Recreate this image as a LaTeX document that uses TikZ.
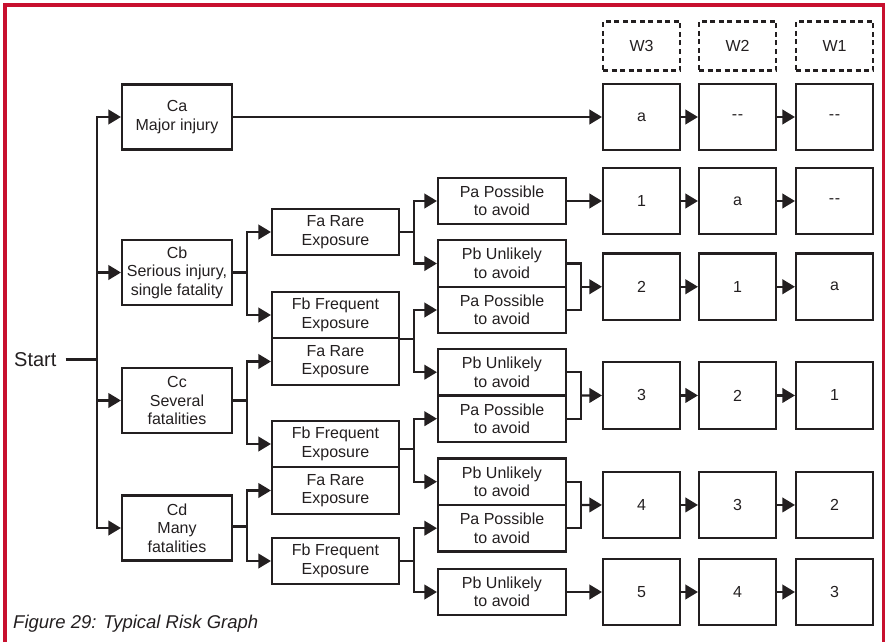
\documentclass[tikz,border=0pt]{standalone}
\usepackage{fontspec}
\setmainfont{Liberation Sans}
\usetikzlibrary{arrows.meta,calc}
\definecolor{riskred}{RGB}{200,16,46}
\definecolor{inkgrey}{RGB}{35,31,32}
\newcommand{\nodash}{-\kern0.6pt-}
\tikzset{
	riskbox/.style={draw=inkgrey, line width=2.1pt, inner sep=0pt, align=center, text=inkgrey, font=\fontsize{16}{18.5}\selectfont},
	cbox/.style={riskbox, minimum width=110pt, minimum height=65pt},
	fbox/.style={riskbox, minimum width=127pt, minimum height=46.5pt},
	pbox/.style={riskbox, minimum width=128pt, minimum height=46.5pt},
	wbox/.style={riskbox, minimum width=77pt, minimum height=66.5pt},
	whead/.style={riskbox, dash pattern=on 5pt off 3.5pt, minimum width=77pt, minimum height=49pt},
	wire/.style={draw=inkgrey, line width=2.1pt},
	arr/.style={wire, -{Triangle[length=12.5pt,width=14.5pt]}}
}

\begin{document}
\begin{tikzpicture}[x=1pt,y=-1pt]
		%%%%% START %%%%%
		\useasboundingbox (0,0) rectangle (885,642);
		\draw[line width=3.4pt, color=riskred] (5,642) -- (5,5) -- (883.5,5) -- (883.5,642);
		
		\node[anchor=west, inner sep=0pt, text=inkgrey, font=\fontsize{20}{24}\selectfont] (start) at (14,359.5) {Start};
		\coordinate (trunk) at (96.7,359.5);
		
		% consequence
		\node[cbox] (Ca) at (177,117) {Ca\\Major injury};
		\node[cbox] (Cb) at (177,272.5) {Cb\\Serious injury,\\single fatality};
		\node[cbox] (Cc) at (177,400.5) {Cc\\Several\\fatalities};
		\node[cbox] (Cd) at (177,528) {Cd\\Many\\fatalities};
		
		% exposure
		\node[fbox] (Fa1) at (335.5,232) {Fa Rare\\Exposure};
		\node[fbox] (Fb1) at (335.5,315) {Fb Frequent\\Exposure};
		\node[fbox] (Fa2) at (335.5,361.5) {Fa Rare\\Exposure};
		\node[fbox] (Fb2) at (335.5,444) {Fb Frequent\\Exposure};
		\node[fbox] (Fa3) at (335.5,490.5) {Fa Rare\\Exposure};
		\node[fbox] (Fb3) at (335.5,561) {Fb Frequent\\Exposure};
		
		% avoidance
		\node[pbox] (Pa1) at (502,201) {Pa Possible\\to avoid};
		\node[pbox] (Pb1) at (502,263.5) {Pb Unlikely\\to avoid};
		\node[pbox] (Pa2) at (502,310) {Pa Possible\\to avoid};
		\node[pbox] (Pb2) at (502,372.2) {Pb Unlikely\\to avoid};
		\node[pbox] (Pa3) at (502,418.7) {Pa Possible\\to avoid};
		\node[pbox] (Pb3) at (502,481.7) {Pb Unlikely\\to avoid};
		\node[pbox] (Pa4) at (502,528.2) {Pa Possible\\to avoid};
		\node[pbox] (Pb4) at (502,592) {Pb Unlikely\\to avoid};
		
		% demand columns
		\node[whead] (hw3) at (641.5,46) {W3};
		\node[whead] (hw2) at (737.5,46) {W2};
		\node[whead] (hw1) at (834.5,46) {W1};
		\foreach \y/\wa/\wb/\wc [count=\row] in {117/a/\nodash/\nodash, 201/1/a/\nodash, 286.75/2/1/a, 395.45/3/2/1, 504.95/4/3/2, 592/5/4/3} {
			\node[wbox] (r\row w3) at (641.5,\y) {\wa};
			\node[wbox] (r\row w2) at (737.5,\y) {\wb};
			\node[wbox] (r\row w1) at (834.5,\y) {\wc};
			\draw[arr] (r\row w3) -- (r\row w2);
			\draw[arr] (r\row w2) -- (r\row w1);
		}
		
		% start -> C
		\draw[wire] ([xshift=9pt]start.east) -- (trunk);
		\draw[arr] (trunk) |- (Ca.west);
		\draw[arr] (trunk) |- (Cd.west);
		\draw[arr] (trunk |- Cb) -- (Cb.west);
		\draw[arr] (trunk |- Cc) -- (Cc.west);
		
		% C -> F
		\draw[arr] (Ca) -- (r1w3);
		\draw[arr] (Cb.east) -- ++(14,0) |- (Fa1.west);
		\draw[arr] (Cb.east) -- ++(14,0) |- (Fb1.west);
		\draw[arr] (Cc.east) -- ++(14,0) |- (Fa2.west);
		\draw[arr] (Cc.east) -- ++(14,0) |- (Fb2.west);
		\draw[arr] ([yshift=1.5pt]Cd.east) -- ++(14,0) |- (Fa3.west);
		\draw[arr] ([yshift=1.5pt]Cd.east) -- ++(14,0) |- (Fb3.west);
		
		% F -> P
		\draw[arr] (Fa1.east) -- ++(14,0) |- (Pa1.west);
		\draw[arr] (Fa1.east) -- ++(14,0) |- (Pb1.west);
		\draw[arr] (Fb1.south east) -- ++(14,0) |- (Pa2.west);
		\draw[arr] (Fb1.south east) -- ++(14,0) |- (Pb2.west);
		\draw[arr] ([yshift=-5pt]Fb2.east) -- ++(14,0) |- (Pa3.west);
		\draw[arr] ([yshift=-5pt]Fb2.east) -- ++(14,0) |- (Pb3.west);
		\draw[arr] (Fb3.east) -- ++(14,0) |- (Pa4.west);
		\draw[arr] (Fb3.east) -- ++(14,0) |- (Pb4.west);
		
		% P -> W
		\draw[arr] (Pa1) -- (r2w3);
		\draw[wire] (Pb1.east) -- ++(13.5,0) |- (Pa2.east);
		\coordinate (m1) at ($(Pb1.east)!.5!(Pa2.east)+(13.5,0)$);
		\draw[arr] (m1) -- (r3w3);
		\draw[wire] (Pb2.east) -- ++(13.5,0) |- (Pa3.east);
		\coordinate (m2) at ($(Pb2.east)!.5!(Pa3.east)+(13.5,0)$);
		\draw[arr] (m2) -- (r4w3);
		\draw[wire] (Pb3.east) -- ++(13.5,0) |- (Pa4.east);
		\coordinate (m3) at ($(Pb3.east)!.5!(Pa4.east)+(13.5,0)$);
		\draw[arr] (m3) -- (r5w3);
		\draw[arr] (Pb4) -- (r6w3);
		
		\node[anchor=base west, inner sep=0pt, text=inkgrey, font=\fontsize{18.5}{22}\selectfont\itshape] (caption) at (13,628) {Figure 29: Typical Risk Graph};
		%%%%% END %%%%%
	\end{tikzpicture}
\end{document}
